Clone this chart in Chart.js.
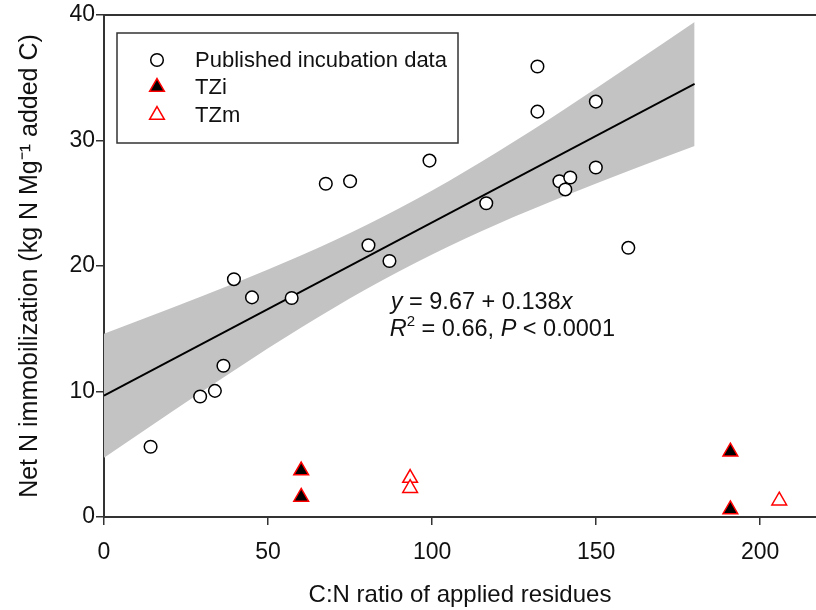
<!DOCTYPE html>
<html><head><meta charset="utf-8">
<script src="https://cdn.jsdelivr.net/npm/chart.js@4/dist/chart.umd.min.js"></script>
<style>html,body{margin:0;padding:0;background:#fff}#wrap{width:816px;height:610px}</style>
</head><body><div id="wrap"><canvas id="c" width="816" height="610"></canvas></div>
<script>
// ---- data ----
const pubX = [14.2, 29.3, 33.8, 36.4, 39.6, 45.1, 57.2, 67.6, 75.0, 80.6, 87.0, 99.2, 116.5, 132.1, 132.1, 138.8, 140.6, 142.1, 149.9, 149.9, 159.8];
const pubY = [5.6, 9.6, 10.05, 12.05, 18.95, 17.5, 17.45, 26.55, 26.75, 21.65, 20.4, 28.4, 25.0, 35.9, 32.3, 26.75, 26.1, 27.05, 33.1, 27.85, 21.45];
const tziX = [60.1, 60.1, 190.9, 190.9];
const tziY = [3.7, 1.6, 5.2, 0.6];
const tzmX = [93.3, 93.3, 205.8];
const tzmY = [3.1, 2.3, 1.3];
const fitX = [0, 180];
const fitY = [9.67, 34.51];
const bandX = [0, 20, 40, 60, 80, 100, 120, 140, 160, 180];
const bandLow = [4.73, 8.27, 11.74, 15.07, 18.16, 20.92, 23.35, 25.54, 27.59, 29.57];
const bandHigh = [14.61, 16.59, 18.64, 20.83, 23.26, 26.02, 29.11, 32.44, 35.91, 39.45];
const xTicks = [0, 50, 100, 150, 200];
const yTicks = [0, 10, 20, 30, 40];
const legendLabels = ['Published incubation data', 'TZi', 'TZm'];
const xTitle = 'C:N ratio of applied residues';
const yTitle = 'Net N immobilization (kg N Mg\u207B\u00B9 added C)';
const eqLine1 = [['y', 'i'], [' = 9.67 + 0.138', 'n'], ['x', 'i']];
const eqLine2 = [['R', 'i'], ['2', 's'], [' = 0.66, ', 'n'], ['P', 'i'], [' < 0.0001', 'n']];

const FONT = "'Liberation Sans', Arial, sans-serif";
const INK = '#111';
const AXC = '#333';

const pts = (xs, ys) => xs.map((x, i) => ({x: x, y: ys[i]}));

function drawMarker(ctx, style, r, x, y, fill, stroke, lw) {
  ctx.save();
  ctx.beginPath();
  if (style === 'circle') {
    ctx.arc(x, y, r, 0, Math.PI * 2);
  } else {
    let rad = 0;
    ctx.moveTo(x + Math.sin(rad) * r, y - Math.cos(rad) * r);
    rad += 2 * Math.PI / 3;
    ctx.lineTo(x + Math.sin(rad) * r, y - Math.cos(rad) * r);
    rad += 2 * Math.PI / 3;
    ctx.lineTo(x + Math.sin(rad) * r, y - Math.cos(rad) * r);
  }
  ctx.closePath();
  ctx.fillStyle = fill; ctx.fill();
  ctx.lineWidth = lw; ctx.strokeStyle = stroke; ctx.stroke();
  ctx.restore();
}

const extras = {
  id: 'extras',
  afterDraw(chart) {
    const ctx = chart.ctx;
    const a = chart.chartArea;
    const xs = chart.scales.x, ys = chart.scales.y;
    ctx.save();
    // top frame line
    ctx.strokeStyle = AXC; ctx.lineWidth = 2;
    ctx.beginPath(); ctx.moveTo(a.left, a.top); ctx.lineTo(a.right, a.top); ctx.stroke();

    // legend
    const bx = a.left + 13, by = a.top + 18, bw = 341, bh = 110;
    ctx.fillStyle = '#fff'; ctx.fillRect(bx, by, bw, bh);
    ctx.strokeStyle = AXC; ctx.lineWidth = 1.5; ctx.strokeRect(bx, by, bw, bh);
    const rows = [by + 27, by + 54, by + 82];
    const dsIdx = [3, 4, 5];
    ctx.font = '22px ' + FONT; ctx.fillStyle = INK; ctx.textBaseline = 'middle'; ctx.textAlign = 'left';
    dsIdx.forEach((di, k) => {
      const ds = chart.data.datasets[di];
      drawMarker(ctx, ds.pointStyle, ds.pointRadius, bx + 40, rows[k], ds.backgroundColor, ds.borderColor, ds.borderWidth);
      ctx.fillStyle = INK;
      ctx.fillText(legendLabels[k], bx + 78, rows[k] + 1);
    });

    // equation
    const ex = xs.getPixelForValue(87.4);
    const ey = ys.getPixelForValue(16.6);
    ctx.textBaseline = 'alphabetic';
    const drawParts = (parts, x0, y0) => {
      let x = x0;
      parts.forEach(([t, s]) => {
        if (s === 'i') ctx.font = 'italic 23.5px ' + FONT;
        else if (s === 's') ctx.font = '15px ' + FONT;
        else ctx.font = '23.5px ' + FONT;
        const yy = s === 's' ? y0 - 10 : y0;
        ctx.fillStyle = INK;
        ctx.fillText(t, x, yy);
        x += ctx.measureText(t).width;
      });
    };
    drawParts(eqLine1, ex, ey);
    drawParts(eqLine2, ex - 1, ey + 27);
    ctx.restore();
  }
};

const axisCommon = {
  grid: {display: true, drawOnChartArea: false, drawTicks: true, tickLength: 8, color: AXC, lineWidth: 1.5},
  border: {display: true, color: AXC, width: 2},
};

new Chart(document.getElementById('c'), {
  type: 'scatter',
  data: {
    datasets: [
      {label: 'CI low', data: pts(bandX, bandLow), showLine: true, pointRadius: 0, borderWidth: 0, borderColor: 'rgba(0,0,0,0)', fill: false, cubicInterpolationMode: 'monotone', order: 6},
      {label: 'CI high', data: pts(bandX, bandHigh), showLine: true, pointRadius: 0, borderWidth: 0, borderColor: 'rgba(0,0,0,0)', backgroundColor: '#c3c3c3', fill: '-1', cubicInterpolationMode: 'monotone', order: 5},
      {label: 'Fit', data: pts(fitX, fitY), showLine: true, pointRadius: 0, borderWidth: 1.8, borderColor: '#000', fill: false, order: 4},
      {label: legendLabels[0], data: pts(pubX, pubY), pointStyle: 'circle', pointRadius: 6.3, backgroundColor: '#fff', borderColor: '#000', borderWidth: 1.5, order: 3},
      {label: legendLabels[1], data: pts(tziX, tziY), pointStyle: 'triangle', pointRadius: 8.5, backgroundColor: '#000', borderColor: '#ff0000', borderWidth: 1.5, order: 2},
      {label: legendLabels[2], data: pts(tzmX, tzmY), pointStyle: 'triangle', pointRadius: 8.5, backgroundColor: '#fff', borderColor: '#ff0000', borderWidth: 1.5, order: 1}
    ]
  },
  options: {
    responsive: false,
    animation: false,
    events: [],
    layout: {autoPadding: false, padding: {left: 15, top: 15, right: 0, bottom: 0}},
    plugins: {legend: {display: false}, tooltip: {enabled: false}},
    scales: {
      x: Object.assign({}, axisCommon, {
        type: 'linear', min: 0, max: 217,
        afterBuildTicks: s => { s.ticks = xTicks.map(v => ({value: v})); },
        afterFit: s => { s.height = 93; },
        ticks: {font: {family: FONT, size: 23}, color: INK, padding: 14, maxRotation: 0, autoSkip: false},
        title: {display: true, text: xTitle, font: {family: FONT, size: 24}, color: INK, padding: 0}
      }),
      y: Object.assign({}, axisCommon, {
        type: 'linear', min: 0, max: 40,
        afterBuildTicks: s => { s.ticks = yTicks.map(v => ({value: v})); },
        afterFit: s => { s.width = 89; },
        ticks: {font: {family: FONT, size: 23}, color: INK, padding: 1, autoSkip: false},
        title: {display: true, text: yTitle, font: {family: FONT, size: 25}, color: INK, padding: 0}
      })
    }
  },
  plugins: [extras]
});
</script>
</body></html>
